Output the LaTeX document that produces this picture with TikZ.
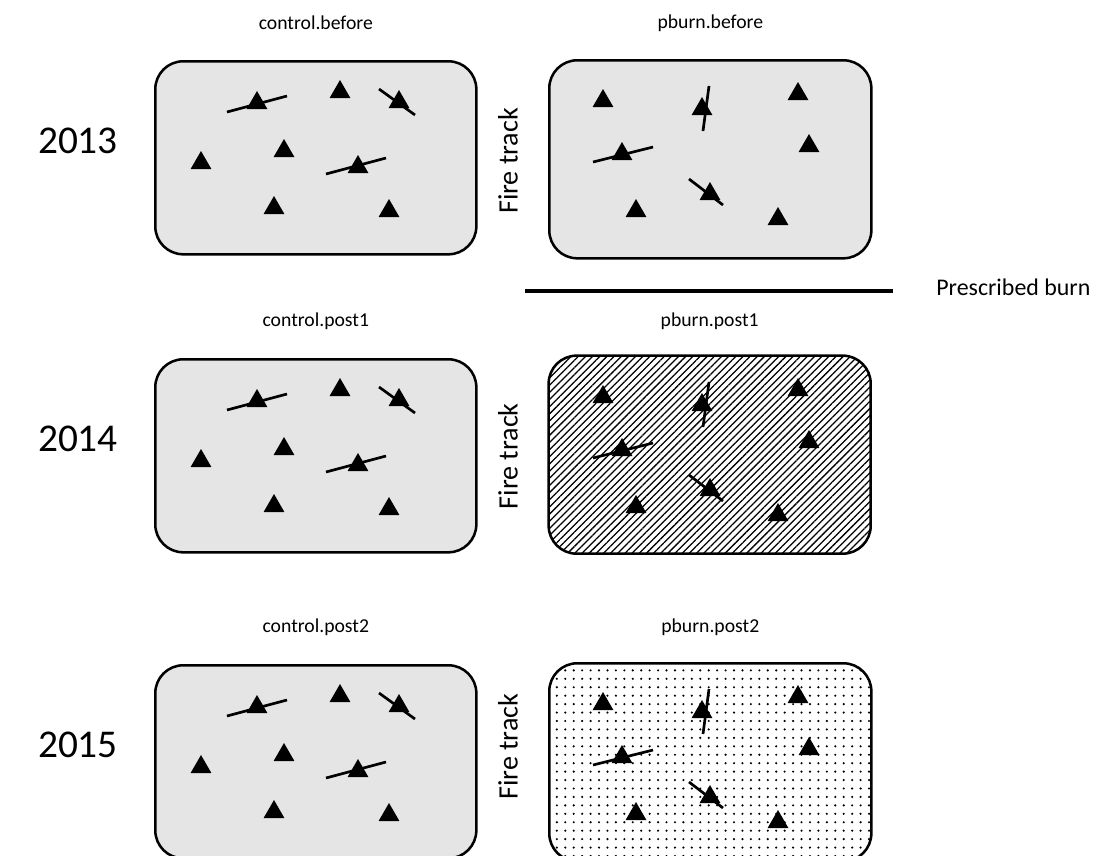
\documentclass[tikz,border=0pt]{standalone}
\usepackage{fontspec}
\setmainfont{Carlito}
\usetikzlibrary{positioning, shapes.geometric, patterns.meta}

\begin{document}
\begin{tikzpicture}[
    x=0.025cm, y=-0.025cm,
    plot/.style={draw, line width=1.8pt, rounded corners=0.7cm, anchor=north west, inner sep=0pt},
    ctrlplot/.style={plot, minimum width=8.025cm, minimum height=4.825cm},
    burnplot/.style={plot, minimum width=8.05cm, minimum height=4.95cm},
    unburnt/.style={fill=black!10},
    hatched/.style={pattern={Lines[angle=45, distance=3.6pt, line width=0.9pt]}},
    dotted/.style={pattern={Dots[distance=6pt, radius=0.85pt]}},
    tree/.style={regular polygon, regular polygon sides=3, fill=black, inner sep=0pt, minimum size=0.6cm},
    log/.style={line width=1.9pt},
    title/.style={font=\fontsize{14}{16}\selectfont},
    year/.style={font=\fontsize{28}{32}\selectfont},
    track/.style={font=\fontsize{20}{24}\selectfont, rotate=90},
    pics/ctrltrees/.style={code={
        \node[tree] (-t1) at (103,43) {};
        \node[tree] (-t2) at (186,32) {};
        \node[tree] (-t3) at (245,42) {};
        \node[tree] (-t4) at (47,103) {};
        \node[tree] (-t5) at (130,91) {};
        \node[tree] (-t6) at (204,107) {};
        \node[tree] (-t7) at (120,148) {};
        \node[tree] (-t8) at (235,151) {};
        \draw[log] (73,52) -- (133,36);
        \draw[log] (225,29) -- (261,55);
        \draw[log] (172,114) -- (232,98);
    }},
    pics/burntrees/.style={code={
        \node[tree] (-t1) at (55,42) {};
        \node[tree] (-t2) at (154,50) {};
        \node[tree] (-t3) at (250,35) {};
        \node[tree] (-t4) at (261,87) {};
        \node[tree] (-t5) at (74,95) {};
        \node[tree] (-t6) at (162,135) {};
        \node[tree] (-t7) at (88,152) {};
        \node[tree] (-t8) at (230,160) {};
        \draw[log] (161,27) -- (155,72);
        \draw[log] (45,103) -- (105,88);
        \draw[log] (141,120) -- (175,146);
    }}
]
    \useasboundingbox (0,0) rectangle (1100,856);

    % 2013
    \node[ctrlplot, unburnt] (c2013) at (154,60) {};
    \node[burnplot, unburnt] (b2013) at (548,59) {};
    \pic (c2013) at (154,60) {ctrltrees};
    \pic (b2013) at (548,59) {burntrees};
    \node[title] (c2013title) at ([yshift=0.925cm]c2013.north) {control.before};
    \node[title] (b2013title) at ([yshift=0.9cm]b2013.north) {pburn.before};
    \node[year] (y2013) at ([xshift=-1.9cm, yshift=0.42cm]c2013.west) {2013};
    \node[track] (f2013) at ([xshift=-1cm, yshift=-0.04cm]b2013.west) {Fire track};

    % prescribed burn
    \coordinate (burnL) at (525,291);
    \coordinate (burnR) at (893,291);
    \draw[line width=2.4pt] (burnL) -- (burnR);
    \node[font=\fontsize{17}{20}\selectfont, right=0.96cm of burnR, yshift=0.1cm] (pburn) {Prescribed burn};

    % 2014
    \node[ctrlplot, unburnt] (c2014) at (154,358) {};
    \node[burnplot, hatched] (b2014) at (548,355) {};
    \pic (c2014) at (154,358) {ctrltrees};
    \pic (b2014) at (548,355) {burntrees};
    \node[title] (c2014title) at ([yshift=0.925cm]c2014.north) {control.post1};
    \node[title] (b2014title) at ([yshift=0.85cm]b2014.north) {pburn.post1};
    \node[year] (y2014) at ([xshift=-1.9cm, yshift=0.42cm]c2014.west) {2014};
    \node[track] (f2014) at ([xshift=-1cm, yshift=-0.04cm]b2014.west) {Fire track};

    % 2015
    \node[ctrlplot, unburnt] (c2015) at (154,664) {};
    \node[burnplot, dotted] (b2015) at (548,662) {};
    \pic (c2015) at (154,664) {ctrltrees};
    \pic (b2015) at (548,662) {burntrees};
    \node[title] (c2015title) at ([yshift=0.925cm]c2015.north) {control.post2};
    \node[title] (b2015title) at ([yshift=0.875cm]b2015.north) {pburn.post2};
    \node[year] (y2015) at ([xshift=-1.9cm, yshift=0.42cm]c2015.west) {2015};
    \node[track] (f2015) at ([xshift=-1cm, yshift=0.39cm]b2015.west) {Fire track};
\end{tikzpicture}
\end{document}
